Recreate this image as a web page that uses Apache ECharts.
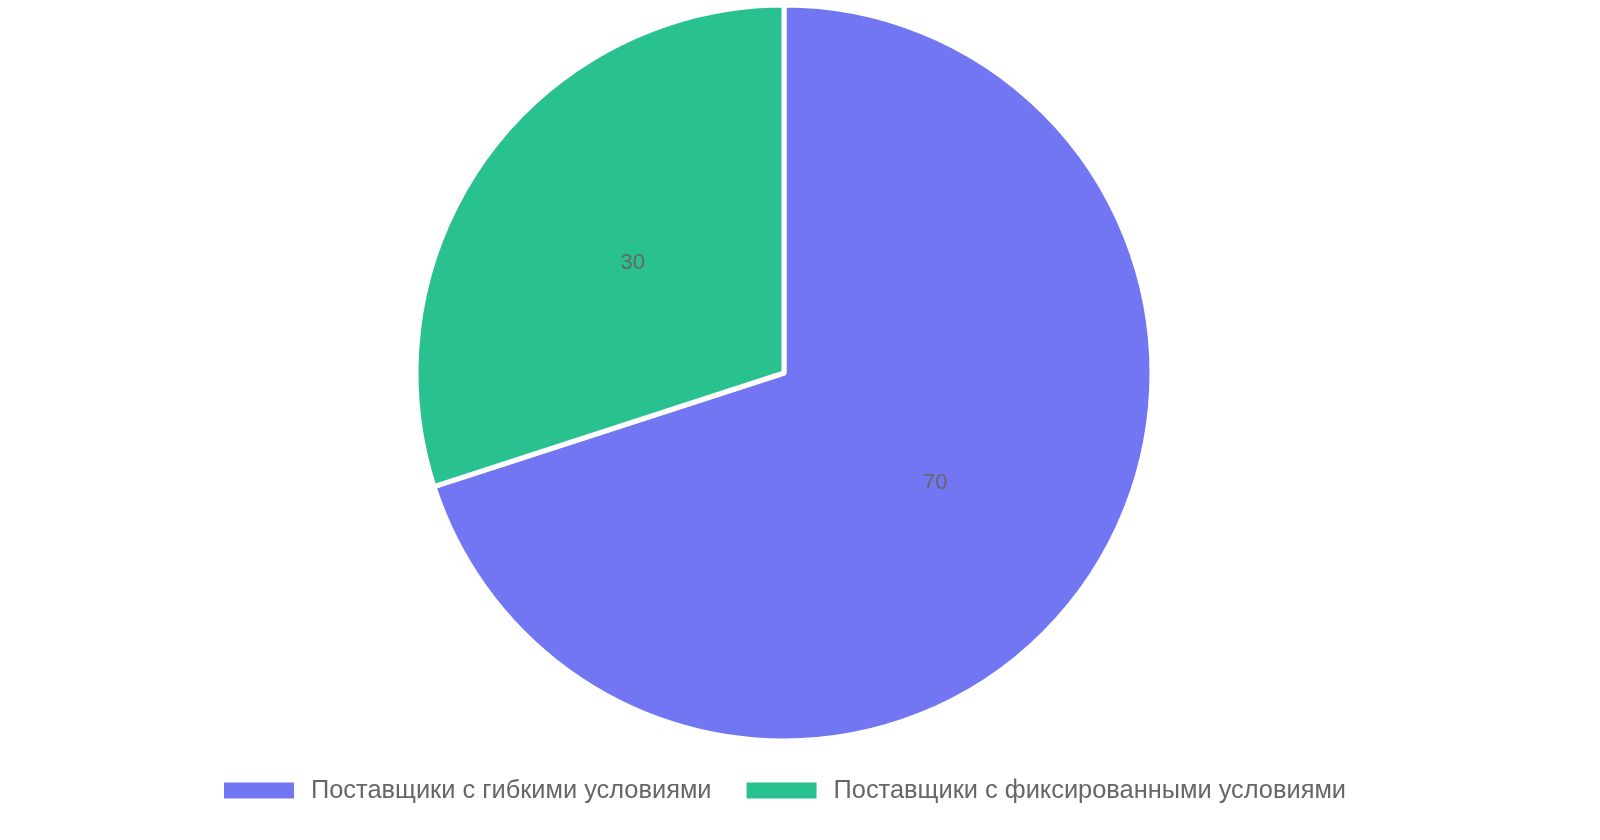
<!DOCTYPE html>
<html>
<head>
<meta charset="utf-8">
<script src="https://cdn.jsdelivr.net/npm/echarts@6/dist/echarts.min.js"></script>
<style>html,body{margin:0;padding:0;background:#fff}#c{width:1600px;height:840px}</style>
</head>
<body>
<div id="c"></div>
<script>
const categories = ['Поставщики с гибкими условиями', 'Поставщики с фиксированными условиями'];
const values = [70, 30];
const colors = ['#7376F2', '#2AC190'];

const chart = echarts.init(document.getElementById('c'));
chart.setOption({
  color: colors,
  textStyle: { fontFamily: 'Liberation Sans, Arial, sans-serif' },
  legend: {
    bottom: 32,
    left: 217,
    itemWidth: 72,
    itemHeight: 18,
    itemGap: 33,
    icon: 'rect',
    textStyle: { fontSize: 25.4, color: '#666', padding: [0, 0, 0, 11] },
    data: categories
  },
  series: [{
    type: 'pie',
    center: [784, 373],
    radius: 368,
    startAngle: 90,
    clockwise: true,
    label: { show: true, position: 'inside', fontSize: 22, color: '#666', formatter: '{c}' },
    labelLine: { show: false },
    itemStyle: { borderColor: '#fff', borderWidth: 5, borderJoin: 'round' },
    data: categories.map((n, i) => ({ name: n, value: values[i] }))
  }]
});
</script>
</body>
</html>
